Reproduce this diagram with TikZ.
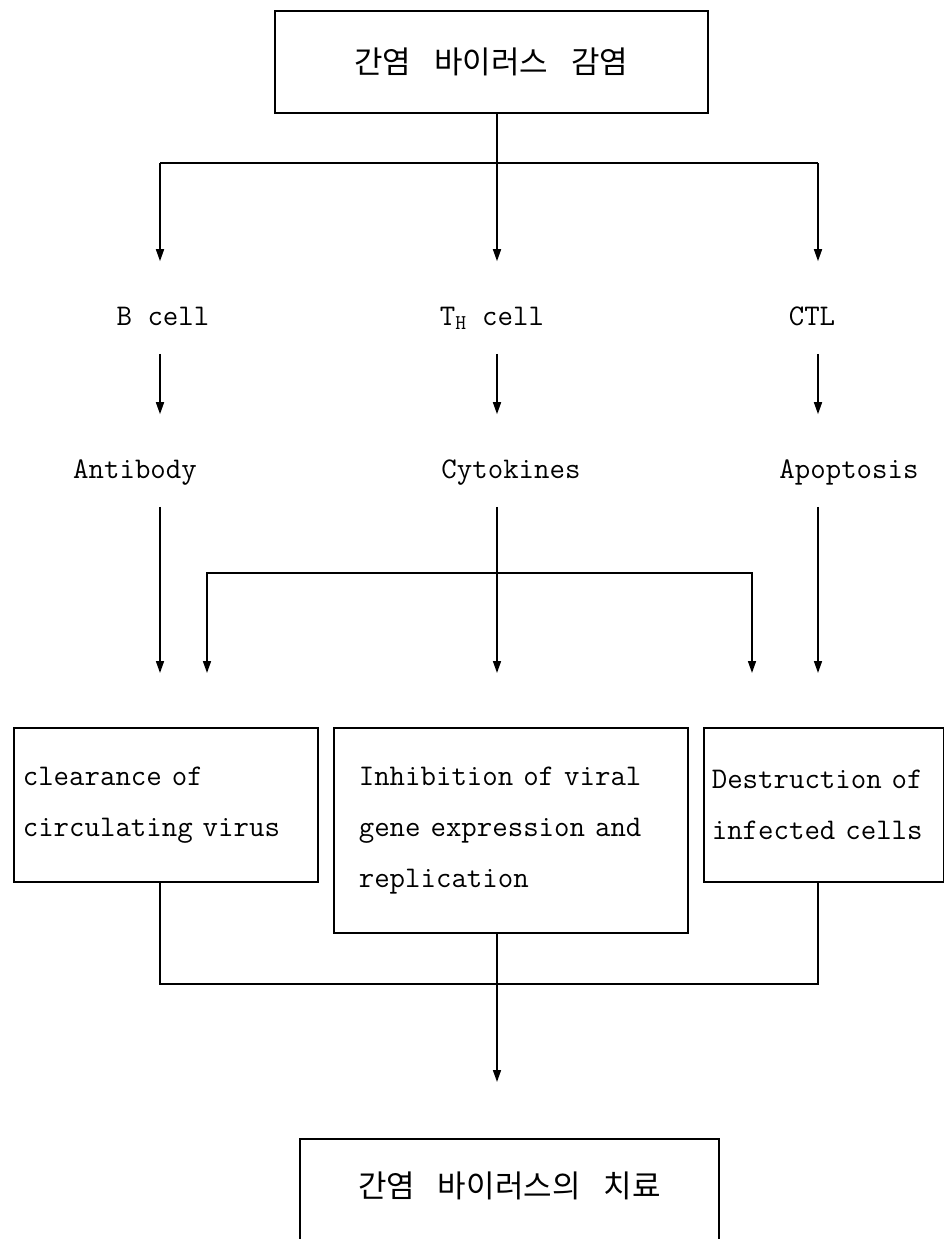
\documentclass[tikz,border=0pt]{standalone}
\usepackage{fontspec}
\newfontfamily\kor[WordSpace=3.3]{Noto Sans CJK KR}
\usetikzlibrary{arrows.meta}
\begin{document}
\begin{tikzpicture}[x=1pt, y=-1pt, line width=1.6pt, >={Triangle[length=12pt,width=8pt]},
	lbl/.style={font=\ttfamily\fontsize{30}{51}\selectfont, anchor=base, inner sep=0pt, text height=63pt, text depth=28pt},
	kbox/.style={draw, font=\kor\fontsize{31}{36}\selectfont, anchor=north west},
	rbox/.style={draw, font=\ttfamily\fontsize{30}{51}\selectfont, anchor=north west, align=left, inner ysep=0pt}]
	\useasboundingbox (0,0) rectangle (944,1239);
	\clip (0,0) rectangle (944,1239);
	% infection
	\node[kbox, minimum width=433, minimum height=102] (infect) at (274,10) {간염 바이러스 감염};
	\coordinate (split) at (497,163);
	\coordinate (sL) at (160,163);
	\coordinate (sR) at (818,163);
	\draw (infect.south -| split)--(split);
	\draw (sL)--(sR);
	% cells
	\node[lbl] (bcell) at (163,325) {B cell};
	\node[lbl] (thcell) at (492,325) {T\textsubscript{H} cell};
	\node[lbl] (ctl) at (812,325) {CTL};
	\draw[->] (sL)--(sL |- bcell.north);
	\draw[->] (split)--(split |- thcell.north);
	\draw[->] (sR)--(sR |- ctl.north);
	% effectors
	\node[lbl] (antib) at (135,478) {Antibody};
	\node[lbl] (cytok) at (511,478) {Cytokines};
	\node[lbl] (apopt) at (849,478) {Apoptosis};
	\draw[->] (bcell.south -| sL)--(antib.north -| sL);
	\draw[->] (thcell.south -| split)--(cytok.north -| split);
	\draw[->] (ctl.south -| sR)--(apopt.north -| sR);
	\coordinate (hL) at (160,673);
	\coordinate (hM) at (497,673);
	\coordinate (hR) at (818,673);
	\draw[->] (antib.south -| hL)--(hL);
	\draw[->] (cytok.south -| hM)--(hM);
	\draw[->] (apopt.south -| hR)--(hR);
	\coordinate (vL) at (207,673);
	\coordinate (vR) at (752,673);
	\draw[<->] (vL)--++(0,-100) -| (vR);
	% results
	\node[rbox, text width=286pt, inner xsep=9pt, minimum height=154] (clear) at (13,727) {clearance of\\circulating virus};
	\node[rbox, text width=304pt, inner xsep=25pt, minimum height=205] (inhib) at (333,727) {Inhibition of viral\\gene expression and\\replication};
	\node[rbox, text width=224pt, inner xsep=8pt, minimum height=154] (destr) at (703,727) {Destruction of\\infected cells};
	\coordinate (mrg) at (497,984);
	\draw (clear.south -| hL) |- (mrg) -| (destr.south -| hR);
	\coordinate (hB) at (497,1082);
	\draw[->] (inhib.south -| mrg)--(hB);
	% treatment
	\node[kbox, minimum width=419, inner ysep=20pt, text height=39pt, text depth=121pt] (cure) at (299,1138) {간염 바이러스의 치료};
\end{tikzpicture}
\end{document}
